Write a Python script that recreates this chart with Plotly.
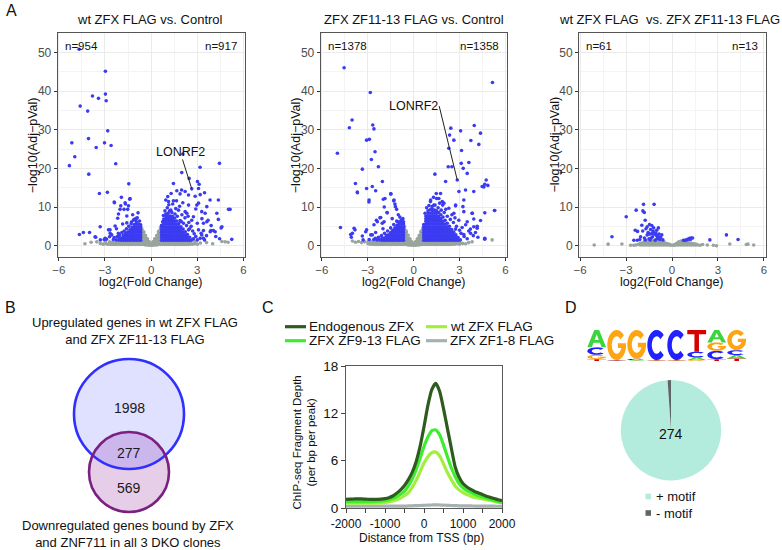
import math
import plotly.graph_objects as go

W, H = 782, 550
FONT = "Liberation Sans, Arial, Helvetica, sans-serif"


def fx(px):
    return px / W


def fy(py):
    return 1 - py / H


# ======================= DATA =======================
# ---- Panel A: volcano plots (x = log2 fold change, y = -log10 adj p) ----
volcano_titles = ["wt ZFX FLAG vs. Control", "ZFX ZF11-13 FLAG vs. Control",
                  "wt ZFX FLAG  vs. ZFX ZF11-13 FLAG"]
volcano_n_down = ["n=954", "n=1378", "n=61"]
volcano_n_up = ["n=917", "n=1358", "n=13"]
lonrf2_fc = [2.64, 2.85]
lonrf2_p = [14.7, 17.0]

# scattered significant genes (read one by one)
p1_sig_pts = [(-4.68, 50.8), (-2.97, 45.1), (-3.81, 38.7), (-2.97, 39.2), (-3.42, 38.1), (-2.92, 37.5),
              (-4.61, 36.1), (-4.12, 34.8), (-2.82, 29.7), (-4.07, 27.7), (-5.15, 26.6), (-3.03, 26.6),
              (-2.60, 25.9), (-3.57, 25.4), (-4.96, 23.0), (-2.30, 21.2), (-5.31, 20.7), (-4.05, 18.5),
              (-1.45, 16.0), (-2.84, 13.8), (-3.36, 13.5), (-1.93, 12.5), (-1.39, 12.0), (-2.40, 11.3),
              (-1.69, 11.1), (-1.97, 10.3), (-1.52, 9.4), (-2.12, 8.2), (-1.58, 7.7), (-0.97, 7.1),
              (-1.10, 6.8), (-3.31, 4.9), (-4.66, 2.9), (-4.40, 3.4), (-4.00, 3.4), (-3.60, 2.2),
              (-2.77, 4.1), (-2.66, 3.2), (-3.05, 1.6), (-2.38, 11.1), (-1.37, 12.2), (-1.67, 10.8),
              (-1.47, 10.3), (-2.02, 9.4), (-1.76, 9.4), (-2.17, 7.1), (-1.00, 6.8), (-1.58, 5.9),
              (-1.28, 6.1), (-2.34, 5.1), (-2.67, 4.1), (-2.13, 3.2), (-3.64, 2.3), (-2.99, 1.9),
              (-2.56, 2.8), (-0.75, 6.4), (-0.90, 7.2), (-1.15, 6.6), (-1.30, 5.6), (-1.45, 5.0),
              (-1.60, 4.4), (-1.75, 3.8), (-1.90, 3.4), (-2.05, 2.8), (-2.20, 2.4), (-2.40, 2.1),
              (-2.70, 2.3), (-2.90, 1.7), (-3.30, 1.5), (-2.25, 4.4), (-1.85, 5.6), (-0.85, 8.5),
              (-1.20, 8.0),
              (2.06, 23.7), (3.18, 20.3), (4.44, 21.3), (1.99, 18.9), (2.47, 17.4), (1.45, 16.1),
              (3.01, 16.6), (3.12, 15.9), (2.64, 14.7), (3.08, 14.8), (1.67, 14.2), (2.21, 14.0),
              (3.47, 13.7), (1.88, 13.4), (2.43, 13.1), (1.08, 12.7), (2.86, 12.8), (3.83, 11.8),
              (4.37, 11.8), (1.45, 11.6), (2.06, 11.1), (5.13, 9.4), (2.97, 10.5), (3.62, 10.1),
              (1.28, 9.2), (2.32, 8.4), (3.29, 8.8), (4.27, 8.4), (2.75, 7.5), (4.37, 6.8),
              (1.88, 6.5), (3.62, 6.2), (4.55, 4.6), (3.08, 4.1), (3.40, 3.9), (3.88, 3.9),
              (4.16, 3.6), (3.29, 2.8), (3.40, 1.9), (1.30, 13.5), (1.13, 11.4), (1.98, 14.4),
              (3.19, 13.2), (3.08, 11.0), (2.43, 10.5), (1.78, 9.2), (2.21, 8.8), (3.51, 8.4),
              (3.40, 5.8), (3.00, 5.8), (2.64, 6.6), (2.43, 4.1), (3.19, 1.9), (3.47, 1.5),
              (3.84, 3.6), (4.05, 3.9), (4.60, 4.9), (5.03, 9.4), (5.24, 1.65), (0.90, 9.0),
              (1.05, 9.8), (1.20, 9.0), (1.35, 8.6), (1.55, 8.2), (1.70, 7.6), (1.60, 9.6),
              (0.80, 7.8), (0.75, 6.2), (1.95, 6.3), (2.10, 5.8), (2.30, 5.2), (2.50, 4.4),
              (2.70, 3.8), (2.80, 3.1), (2.90, 2.4), (2.45, 6.0), (2.60, 5.0), (1.85, 10.2),
              (1.15, 10.6), (2.00, 8.0), (2.20, 7.2), (2.40, 7.6), (0.95, 11.8), (1.40, 10.8),
              (1.65, 11.6), (2.90, 9.5), (3.30, 7.0), (3.70, 6.6), (3.90, 5.2), (3.25, 3.2),
              (3.60, 2.6), (4.20, 2.4), (4.45, 1.8), (2.75, 1.8), (3.00, 1.5)]

# dense significant region, read as columns (x, [y values])
p1_sig_cols = [(0.68, [1.4, 2.1, 2.8, 3.5, 4.2, 4.9, 5.3]),
               (0.82, [1.4, 2.1, 2.8, 3.5, 4.2, 4.9, 5.6, 6.3, 6.9]),
               (0.96, [1.4, 2.1, 2.8, 3.5, 4.2, 4.9, 5.6, 6.3, 7.0, 7.7, 8.2]),
               (1.10, [1.4, 2.1, 2.8, 3.5, 4.2, 4.9, 5.6, 6.3, 7.0, 7.7, 8.4]),
               (1.24, [1.4, 2.1, 2.8, 3.5, 4.2, 4.9, 5.6, 6.3, 7.0, 7.7]),
               (1.38, [1.4, 2.1, 2.8, 3.5, 4.2, 4.9, 5.6, 6.3, 7.0, 7.6]),
               (1.52, [1.4, 2.1, 2.8, 3.5, 4.2, 4.9, 5.6, 6.3, 7.1]),
               (1.66, [1.4, 2.1, 2.8, 3.5, 4.2, 4.9, 5.6, 6.4]),
               (1.80, [1.4, 2.1, 2.8, 3.5, 4.2, 4.9, 5.7]),
               (1.94, [1.4, 2.1, 2.8, 3.5, 4.2, 4.9]),
               (2.08, [1.4, 2.1, 2.8, 3.5, 4.3]),
               (2.22, [1.4, 2.1, 2.8, 3.6]),
               (2.36, [1.4, 2.1, 2.9]),
               (2.50, [1.4, 2.2]),
               (2.64, [1.5]),
               (-0.68, [1.4, 2.1, 2.8, 3.5, 4.2, 4.9, 5.4]),
               (-0.82, [1.4, 2.1, 2.8, 3.5, 4.2, 4.9, 5.6]),
               (-0.96, [1.4, 2.1, 2.8, 3.5, 4.2, 4.9, 5.6, 6.2]),
               (-1.10, [1.4, 2.1, 2.8, 3.5, 4.2, 4.9, 5.5]),
               (-1.24, [1.4, 2.1, 2.8, 3.5, 4.2, 4.7]),
               (-1.38, [1.4, 2.1, 2.8, 3.5, 4.1]),
               (-1.52, [1.4, 2.1, 2.8, 3.5]),
               (-1.66, [1.4, 2.1, 2.8, 3.2]),
               (-1.80, [1.4, 2.1, 2.7]),
               (-1.94, [1.4, 2.0]),
               (-2.08, [1.5, 2.2]),
               (-2.25, [1.5]),
               (-2.45, [1.6])]

# non-significant genes, read as columns
p1_ns_cols = [(-0.60, [0.3, 0.9, 1.5, 2.1, 2.7, 3.3, 3.9, 4.4]), (-0.48, [0.3, 0.9, 1.5, 2.1, 2.7, 3.3, 3.6]),
              (-0.36, [0.2, 0.8, 1.4, 2.0, 2.6]), (-0.24, [0.2, 0.8, 1.4, 1.8]), (-0.12, [0.1, 0.6, 1.0]),
              (0.00, [0.1, 0.4]), (0.12, [0.1, 0.6, 1.0]), (0.24, [0.2, 0.8, 1.4, 1.8]),
              (0.36, [0.2, 0.8, 1.4, 2.0, 2.6]), (0.48, [0.3, 0.9, 1.5, 2.1, 2.7, 3.3, 3.7]),
              (0.60, [0.3, 0.9, 1.5, 2.1, 2.7, 3.3, 3.9, 4.6]),
              (-0.74, [0.3, 0.9, 1.2]), (-0.88, [0.3, 0.9, 1.2]), (-1.02, [0.3, 0.9, 1.2]),
              (-1.16, [0.3, 0.9, 1.1]), (-1.30, [0.3, 0.9, 1.1]), (-1.44, [0.3, 0.9]), (-1.58, [0.3, 0.9]),
              (-1.72, [0.3, 0.9]), (-1.86, [0.3, 0.9]), (-2.00, [0.3, 0.9]), (-2.14, [0.3, 0.9]),
              (-2.28, [0.3, 0.8]), (-2.42, [0.3, 0.8]), (-2.56, [0.3, 0.9]), (-2.70, [0.4, 1.0]),
              (-2.84, [0.4]), (-2.98, [0.5, 1.0]), (-3.12, [0.4]), (-3.30, [0.6]), (-3.53, [1.0]),
              (-3.90, [0.9]), (-4.30, [0.5]),
              (0.74, [0.3, 0.9, 1.2]), (0.88, [0.3, 0.9, 1.2]), (1.02, [0.3, 0.9, 1.2]), (1.16, [0.3, 0.9, 1.2]),
              (1.30, [0.3, 0.9, 1.1]), (1.44, [0.3, 0.9, 1.1]), (1.58, [0.3, 0.9]), (1.72, [0.3, 0.9]),
              (1.86, [0.3, 0.9]), (2.00, [0.3, 0.9]), (2.14, [0.3, 0.9]), (2.28, [0.3, 0.9]),
              (2.42, [0.3, 0.8]), (2.56, [0.4, 1.0]), (2.70, [0.4]), (2.84, [0.5, 1.1]), (3.00, [0.4]),
              (3.20, [0.7]), (3.60, [0.8]), (4.00, [0.5]), (4.60, [1.1]), (4.81, [1.0]), (5.00, [0.9])]

p2_sig_pts = [(-4.54, 46.0), (-2.83, 39.6), (-4.02, 32.5), (-4.20, 30.5), (-2.67, 31.2), (-2.59, 30.2),
              (-3.07, 27.3), (-2.89, 27.5), (-4.98, 23.9), (-2.52, 24.3), (-2.76, 22.3), (-2.30, 20.4),
              (-3.35, 19.8), (-2.04, 16.6), (-3.80, 16.1), (-3.07, 14.8), (-3.67, 13.7), (-2.48, 14.2),
              (-1.48, 13.4), (-1.98, 12.0), (-1.30, 11.6), (-2.91, 11.8), (-1.87, 12.2), (-1.22, 10.8),
              (-1.11, 9.4), (-1.74, 8.6), (-2.43, 6.6), (-2.20, 7.2), (-1.93, 6.2), (-3.07, 4.1),
              (-3.83, 4.1), (-4.78, 4.7), (-4.11, 2.9), (-4.07, 2.2), (-2.80, 2.8), (-1.07, 6.2),
              (-1.50, 13.4), (-1.28, 11.8), (-1.19, 10.1), (-1.92, 10.0), (-2.92, 11.3), (-3.68, 13.9),
              (-2.70, 15.3), (-1.72, 8.5), (-2.15, 7.3), (-2.37, 6.2), (-2.59, 5.4), (-2.05, 5.8),
              (-3.89, 4.5), (-4.00, 3.2), (-3.13, 3.6), (-3.35, 2.5), (-2.70, 2.8), (-2.48, 3.4),
              (-0.70, 7.0), (-0.90, 7.4), (-1.10, 6.4), (-1.30, 5.5), (-1.50, 4.6), (-1.70, 3.8),
              (-1.90, 3.2), (-2.10, 2.6), (-2.30, 2.2), (-2.50, 1.9), (-2.90, 1.6), (-3.30, 1.5),
              (-1.00, 8.0), (-1.40, 7.0), (-2.00, 4.4),
              (5.15, 42.2), (3.96, 31.1), (2.43, 30.4), (3.07, 29.7), (4.37, 29.1), (3.74, 27.2),
              (2.35, 28.6), (2.63, 27.3), (4.26, 26.2), (3.13, 24.6), (2.30, 25.2), (3.61, 21.5),
              (3.11, 21.3), (3.24, 20.0), (2.26, 20.4), (2.50, 20.4), (1.39, 18.5), (3.50, 18.7),
              (2.85, 17.0), (4.74, 17.0), (4.65, 15.9), (4.85, 15.6), (4.48, 15.3), (3.93, 14.0),
              (2.09, 16.6), (2.96, 14.0), (3.28, 11.8), (3.22, 10.1), (5.28, 9.1), (4.65, 8.5),
              (3.83, 8.4), (2.74, 10.3), (4.37, 6.5), (3.93, 4.9), (4.65, 1.7), (3.72, 3.2),
              (4.15, 4.5), (1.76, 13.5), (1.50, 12.2), (1.87, 11.4), (1.48, 13.5), (1.11, 11.8),
              (1.65, 12.2), (1.32, 10.5), (1.98, 11.0), (2.30, 9.7), (2.74, 10.5), (2.63, 8.4),
              (3.39, 14.4), (4.59, 15.2), (3.28, 8.8), (3.82, 8.4), (5.30, 9.1), (2.95, 6.6),
              (3.50, 6.2), (3.93, 6.9), (4.15, 5.0), (3.17, 4.7), (3.71, 4.3), (4.04, 3.4),
              (2.74, 4.3), (3.28, 2.9), (4.65, 1.9), (0.85, 9.8), (1.00, 10.4), (1.20, 10.1),
              (1.40, 10.5), (1.60, 9.8), (1.80, 9.2), (2.00, 8.6), (2.20, 7.6), (2.40, 6.8),
              (2.60, 6.0), (2.80, 5.0), (3.00, 4.0), (3.10, 3.2), (3.30, 2.4), (3.50, 1.8),
              (0.75, 8.4), (1.10, 11.4), (1.30, 12.5), (1.90, 10.5), (2.50, 8.0), (2.70, 7.2),
              (3.40, 5.4), (3.60, 3.8), (3.90, 2.6), (4.20, 2.2), (1.70, 11.0), (2.10, 9.4)]

p2_sig_cols = [(0.66, [1.4, 2.1, 2.8, 3.5, 4.2, 4.9, 5.5]),
               (0.80, [1.4, 2.1, 2.8, 3.5, 4.2, 4.9, 5.6, 6.3, 7.0, 7.7]),
               (0.94, [1.4, 2.1, 2.8, 3.5, 4.2, 4.9, 5.6, 6.3, 7.0, 7.7, 8.4, 9.0]),
               (1.08, [1.4, 2.1, 2.8, 3.5, 4.2, 4.9, 5.6, 6.3, 7.0, 7.7, 8.4, 9.3]),
               (1.22, [1.4, 2.1, 2.8, 3.5, 4.2, 4.9, 5.6, 6.3, 7.0, 7.7, 8.4, 9.1, 9.4]),
               (1.36, [1.4, 2.1, 2.8, 3.5, 4.2, 4.9, 5.6, 6.3, 7.0, 7.7, 8.4, 9.2]),
               (1.50, [1.4, 2.1, 2.8, 3.5, 4.2, 4.9, 5.6, 6.3, 7.0, 7.7, 8.4, 9.0]),
               (1.64, [1.4, 2.1, 2.8, 3.5, 4.2, 4.9, 5.6, 6.3, 7.0, 7.7, 8.6]),
               (1.78, [1.4, 2.1, 2.8, 3.5, 4.2, 4.9, 5.6, 6.3, 7.0, 8.0]),
               (1.92, [1.4, 2.1, 2.8, 3.5, 4.2, 4.9, 5.6, 6.3, 7.4]),
               (2.06, [1.4, 2.1, 2.8, 3.5, 4.2, 4.9, 5.6, 6.6]),
               (2.20, [1.4, 2.1, 2.8, 3.5, 4.2, 4.9, 5.8]),
               (2.34, [1.4, 2.1, 2.8, 3.5, 4.2, 5.0]),
               (2.48, [1.4, 2.1, 2.8, 3.5, 4.2]),
               (2.62, [1.4, 2.1, 2.8, 3.5]),
               (2.76, [1.4, 2.1, 2.8]),
               (2.90, [1.4, 2.1]),
               (3.05, [1.5]),
               (-0.66, [1.4, 2.1, 2.8, 3.5, 4.2, 4.9, 5.6, 6.2]),
               (-0.80, [1.4, 2.1, 2.8, 3.5, 4.2, 4.9, 5.6, 6.3, 6.7]),
               (-0.94, [1.4, 2.1, 2.8, 3.5, 4.2, 4.9, 5.6, 6.2]),
               (-1.08, [1.4, 2.1, 2.8, 3.5, 4.2, 4.9, 5.3]),
               (-1.22, [1.4, 2.1, 2.8, 3.5, 4.2, 4.6]),
               (-1.36, [1.4, 2.1, 2.8, 3.5, 4.0]),
               (-1.50, [1.4, 2.1, 2.8, 3.4]),
               (-1.64, [1.4, 2.1, 2.8]),
               (-1.78, [1.4, 2.1, 2.6]),
               (-1.92, [1.4, 2.0]),
               (-2.06, [1.4, 1.9]),
               (-2.22, [1.5]),
               (-2.40, [1.5]),
               (-2.60, [1.6])]

p2_ns_cols = [(-0.60, [0.3, 0.9, 1.5, 2.1, 2.7, 3.3, 3.9, 4.5, 5.0]), (-0.48, [0.3, 0.9, 1.5, 2.1, 2.7, 3.3, 3.8]),
              (-0.36, [0.2, 0.8, 1.4, 2.0, 2.7]), (-0.24, [0.2, 0.8, 1.4, 1.8]), (-0.12, [0.1, 0.6, 1.0]),
              (0.00, [0.1, 0.4]), (0.12, [0.1, 0.6, 1.0]), (0.24, [0.2, 0.8, 1.4, 1.8]),
              (0.36, [0.2, 0.8, 1.4, 2.0, 2.6]), (0.48, [0.3, 0.9, 1.5, 2.1, 2.7, 3.3, 3.7]),
              (0.60, [0.3, 0.9, 1.5, 2.1, 2.7, 3.3, 3.9, 4.5]),
              (-0.74, [0.3, 0.9, 1.2]), (-0.88, [0.3, 0.9, 1.2]), (-1.02, [0.3, 0.9, 1.2]),
              (-1.16, [0.3, 0.9, 1.2]), (-1.30, [0.3, 0.9, 1.1]), (-1.44, [0.3, 0.9]), (-1.58, [0.3, 0.9]),
              (-1.72, [0.3, 0.9]), (-1.86, [0.3, 0.9]), (-2.00, [0.3, 0.9]), (-2.14, [0.3, 0.9, 1.2]),
              (-2.28, [0.3, 0.8]), (-2.42, [0.3, 0.9]), (-2.56, [0.3, 0.9]), (-2.70, [0.4, 1.0]),
              (-2.84, [0.4, 1.1]), (-2.98, [0.5, 1.0]), (-3.20, [1.0]), (-3.40, [0.8]), (-3.60, [1.1]),
              (-3.80, [0.9]), (-4.00, [1.2]),
              (0.74, [0.3, 0.9, 1.2]), (0.88, [0.3, 0.9, 1.2]), (1.02, [0.3, 0.9, 1.2]), (1.16, [0.3, 0.9, 1.2]),
              (1.30, [0.3, 0.9, 1.1]), (1.44, [0.3, 0.9, 1.1]), (1.58, [0.3, 0.9]), (1.72, [0.3, 0.9]),
              (1.86, [0.3, 0.9]), (2.00, [0.3, 0.9]), (2.14, [0.3, 0.9]), (2.28, [0.3, 0.9]),
              (2.42, [0.3, 0.8]), (2.56, [0.4, 1.0]), (2.70, [0.4, 1.0]), (2.84, [0.5, 1.1]),
              (3.00, [0.4, 0.9]), (3.20, [0.6]), (3.40, [0.5]), (3.60, [0.8]), (3.82, [1.0]), (5.13, [1.5])]

p3_sig_pts = [(-1.86, 10.7), (-1.17, 10.7), (-2.34, 9.2), (-2.99, 7.5), (-1.81, 8.6), (-1.75, 6.6),
              (-1.97, 5.3), (-1.47, 5.5), (-1.32, 5.2), (-1.62, 4.9), (-0.89, 4.6), (-2.40, 4.0),
              (-2.25, 3.7), (-1.91, 3.8), (-1.56, 3.4), (-1.23, 3.7), (-1.06, 3.3), (-0.85, 3.0),
              (-0.67, 2.8), (-1.62, 2.8), (-2.05, 2.3), (-1.27, 2.3), (-0.96, 1.9), (-2.49, 1.4),
              (-2.27, 1.4), (-1.43, 1.5), (-1.10, 1.4), (-0.60, 1.5), (-3.92, 2.3), (-1.40, 4.2),
              (-1.70, 4.4), (-1.20, 4.6), (-1.00, 2.6), (-0.75, 2.1), (-1.35, 2.0), (-1.50, 1.8),
              (-1.80, 2.0), (-1.15, 3.0), (-1.30, 3.2), (-0.90, 2.3), (-1.75, 1.5), (-2.10, 1.6),
              (-0.80, 1.6), (-1.00, 4.0), (-1.45, 3.0), (-1.90, 9.0),
              (0.85, 1.4), (0.95, 1.5), (1.05, 1.7), (1.15, 1.9), (1.25, 2.0), (1.34, 2.0),
              (0.75, 1.4), (2.47, 1.5), (3.55, 2.8), (4.31, 1.6), (1.20, 1.6)]

p3_sig_cols = []

p3_ns_cols = [(-2.50, [0.1]), (-2.36, [0.2]), (-2.22, [0.3]), (-2.08, [0.2, 0.6]), (-1.94, [0.2, 0.7]),
              (-1.80, [0.2, 0.7, 1.1]), (-1.66, [0.2, 0.7, 1.2]), (-1.52, [0.2, 0.7, 1.2]),
              (-1.38, [0.2, 0.7, 1.2]), (-1.24, [0.2, 0.7, 1.2]), (-1.10, [0.2, 0.7, 1.2, 1.5]),
              (-0.96, [0.2, 0.7, 1.2, 1.5]), (-0.82, [0.2, 0.7, 1.2, 1.4]), (-0.68, [0.2, 0.7, 1.2]),
              (-0.54, [0.2, 0.7, 1.1]), (-0.40, [0.2, 0.6]), (-0.26, [0.2, 0.5]), (-0.12, [0.1, 0.3]),
              (0.02, [0.1]), (0.16, [0.1, 0.3]), (0.30, [0.2, 0.6]), (0.44, [0.2, 0.7, 1.0]),
              (0.58, [0.2, 0.7, 1.2]), (0.72, [0.2, 0.7, 1.2]), (0.86, [0.2, 0.7, 1.1]),
              (1.00, [0.2, 0.7, 1.1]), (1.14, [0.2, 0.7]), (1.28, [0.2, 0.6]), (1.42, [0.2, 0.5]),
              (1.56, [0.2, 0.4]), (1.70, [0.2]), (1.84, [0.1]), (2.00, [0.3]), (2.30, [0.2]), (2.70, [0.1]),
              (-5.08, [0.2]), (-4.17, [0.4]), (-3.27, [0.45]), (-2.70, [0.1]), (2.90, [0.0]),
              (3.77, [0.45]), (4.85, [0.3]), (4.95, [0.4]), (5.33, [0.2])]

# ---- Panel B: Venn ----
venn_top_title = "Upregulated genes in wt ZFX FLAG<br>and ZFX ZF11-13 FLAG"
venn_bottom_title = "Downregulated genes bound by ZFX<br>and ZNF711 in all 3 DKO clones"
venn_counts = [1998, 277, 569]

# ---- Panel C: ChIP-seq profiles ----
c_x = [-2000, -1900, -1800, -1700, -1600, -1500, -1400, -1300, -1200, -1100, -1000, -900, -800, -700,
       -600, -500, -400, -300, -200, -100, 0, 100, 200, 300, 400, 500, 600, 700, 800, 900, 1000,
       1100, 1200, 1300, 1400, 1500, 1600, 1700, 1800, 1900, 2000]
c_endog = [1.10, 1.12, 1.14, 1.16, 1.15, 1.12, 1.10, 1.10, 1.10, 1.12, 1.18, 1.30, 1.52, 1.86,
           2.30, 2.85, 3.60, 4.55, 5.90, 7.80, 10.3, 13.0, 15.0, 15.8, 14.8, 12.6, 10.1, 7.6, 5.2, 3.9, 3.1,
           2.65, 2.35, 2.10, 1.90, 1.70, 1.50, 1.35, 1.20, 1.05, 0.93]
c_wt = [0.60, 0.60, 0.60, 0.60, 0.60, 0.60, 0.60, 0.61, 0.62, 0.65, 0.70, 0.78, 0.90, 1.05,
        1.25, 1.55, 1.95, 2.65, 3.50, 4.60, 5.70, 6.50, 7.00, 7.10, 6.60, 5.60, 4.50, 3.60, 2.80, 2.30, 1.95,
        1.70, 1.50, 1.35, 1.25, 1.15, 1.05, 0.95, 0.85, 0.75, 0.65]
c_zf913 = [0.80, 0.80, 0.80, 0.80, 0.80, 0.80, 0.80, 0.82, 0.85, 0.88, 0.95, 1.05, 1.22, 1.43,
           1.75, 2.15, 2.80, 3.70, 4.90, 6.30, 7.80, 9.00, 9.80, 9.90, 9.30, 8.00, 6.50, 5.10, 4.00, 3.10, 2.55,
           2.20, 1.95, 1.75, 1.55, 1.40, 1.25, 1.10, 0.95, 0.82, 0.72]
c_zf18 = [0.22, 0.22, 0.22, 0.22, 0.22, 0.22, 0.22, 0.22, 0.22, 0.22, 0.24, 0.24, 0.24, 0.24,
          0.24, 0.24, 0.26, 0.28, 0.30, 0.32, 0.34, 0.36, 0.38, 0.40, 0.38, 0.36, 0.34, 0.32, 0.30, 0.28, 0.27,
          0.26, 0.26, 0.25, 0.25, 0.24, 0.24, 0.23, 0.23, 0.22, 0.22]
c_names = ["Endogenous ZFX", "wt ZFX FLAG", "ZFX ZF9-13 FLAG", "ZFX ZF1-8 FLAG"]
c_colors = ["#2E5B1E", "#A2EE3E", "#3DEE2E", "#A7B1B1"]
c_x_ticks = [-2000, -1000, 0, 1000, 2000]
c_x_ticktext = ["-2000", "-1000", "0", "1000", "2000"]
c_y_ticks = [0, 6, 12, 18]

# ---- Panel D: motif logo (letter probabilities per position) and pie ----
logo_pos = [1, 2, 3, 4, 5, 6, 7, 8]
logo_A = [0.56, 0.01, 0.02, 0.01, 0.01, 0.08, 0.40, 0.11]
logo_C = [0.24, 0.01, 0.04, 0.97, 0.97, 0.19, 0.27, 0.16]
logo_G = [0.14, 0.97, 0.93, 0.01, 0.01, 0.03, 0.27, 0.65]
logo_T = [0.06, 0.01, 0.01, 0.01, 0.01, 0.70, 0.06, 0.08]
logo_colors = {"A": "#3CD63C", "C": "#2121FF", "G": "#FFA514", "T": "#D60000"}

pie_labels = ["+ motif", "- motif"]
pie_values = [274, 3]
pie_colors = ["#B3EBDD", "#5E6567"]

# ======================= FIGURE =======================
BLUE = "#3B3BF2"
GRAY = "#98A49D"


def expand(cols):
    xs, ys = [], []
    for x, yl in cols:
        for y in yl:
            xs.append(x)
            ys.append(y)
    return xs, ys


fig = go.Figure()
annotations = []
shapes = []


def ann(text, x, y, xref="paper", yref="paper", size=13, xanchor="center", yanchor="middle", color="#111111",
        **kw):
    d = dict(text=text, x=x, y=y, xref=xref, yref=yref, showarrow=False, xanchor=xanchor, yanchor=yanchor,
             font=dict(size=size, color=color, family=FONT))
    d.update(kw)
    annotations.append(d)


panel_px = [(57.7, 245.0), (320.7, 507.0), (579.0, 765.5)]
panel_data = [(p1_sig_pts, p1_sig_cols, p1_ns_cols),
              (p2_sig_pts, p2_sig_cols, p2_ns_cols),
              (p3_sig_pts, p3_sig_cols, p3_ns_cols)]
A_TOP, A_BOT = 33.0, 257.0
title_cx = [150.0, 414.0, 669.0]

layout_axes = {}
for i, ((x0p, x1p), (pts, cols, ns)) in enumerate(zip(panel_px, panel_data), start=1):
    xn = "x" if i == 1 else f"x{i}"
    yn = "y" if i == 1 else f"y{i}"
    nx, ny = expand(ns)
    fig.add_trace(go.Scatter(x=nx, y=ny, mode="markers", xaxis=xn, yaxis=yn,
                             marker=dict(color=GRAY, size=3.6, line=dict(width=0)),
                             showlegend=False, hoverinfo="skip"))
    cx, cy = expand(cols)
    sx = [p[0] for p in pts] + cx
    sy = [p[1] for p in pts] + cy
    fig.add_trace(go.Scatter(x=sx, y=sy, mode="markers", xaxis=xn, yaxis=yn,
                             marker=dict(color=BLUE, size=3.6, line=dict(width=0)),
                             showlegend=False, hoverinfo="skip"))
    xkey = "xaxis" if i == 1 else f"xaxis{i}"
    ykey = "yaxis" if i == 1 else f"yaxis{i}"
    layout_axes[xkey] = dict(domain=[fx(x0p), fx(x1p)], range=[-6.07, 6.1], anchor=yn, automargin=False,
                             tickmode="linear", tick0=0, dtick=3,
                             showgrid=True, gridcolor="#EBEBEB", gridwidth=1,
                             minor=dict(tick0=0, dtick=1.5, showgrid=True, gridcolor="#F4F4F4", gridwidth=0.6),
                             zeroline=False, showline=True, mirror=True, linecolor="#555555", linewidth=1,
                             ticks="outside", ticklen=2.5, tickcolor="#333333",
                             tickfont=dict(size=11.5, color="#4D4D4D", family=FONT))
    layout_axes[ykey] = dict(domain=[fy(A_BOT), fy(A_TOP)], range=[-2.92, 55.0], anchor=xn, automargin=False,
                             tickmode="linear", tick0=0, dtick=10,
                             showgrid=True, gridcolor="#EBEBEB", gridwidth=1,
                             minor=dict(tick0=0, dtick=5, showgrid=True, gridcolor="#F4F4F4", gridwidth=0.6),
                             zeroline=False, showline=True, mirror=True, linecolor="#555555", linewidth=1,
                             ticks="outside", ticklen=3, tickcolor="#333333",
                             tickfont=dict(size=12, color="#4D4D4D", family=FONT))
    cxp = (x0p + x1p) / 2
    ann(volcano_titles[i - 1], fx(title_cx[i - 1]), fy(19), size=13)
    ann("log2(Fold Change)", fx(cxp), fy(281.5), size=12.5)
    ann("\u2212log10(Adj\u2212pVal)", fx(x0p - 24.5), fy(145), size=12.5, textangle=-90)
    ann(volcano_n_down[i - 1], -5.75, 51.7, xref=xn, yref=yn, size=11.5, xanchor="left")
    ann(volcano_n_up[i - 1], 5.72, 51.7, xref=xn, yref=yn, size=11.5, xanchor="right")

# LONRF2 labels (panels 1 and 2)
ann("LONRF2", 1.89, 24.3, xref="x", yref="y", size=12.5)
shapes.append(dict(type="line", xref="x", yref="y", x0=2.04, y0=22.3, x1=lonrf2_fc[0], y1=lonrf2_p[0],
                   line=dict(color="#222222", width=1)))
ann("LONRF2", -0.02, 36.1, xref="x2", yref="y2", size=12.5)
shapes.append(dict(type="line", xref="x2", yref="y2", x0=1.67, y0=36.1, x1=lonrf2_fc[1], y1=lonrf2_p[1],
                   line=dict(color="#222222", width=1)))

# ---- Panel C ----
C_X0, C_X1, C_Y0, C_Y1 = 346.0, 502.0, 366.0, 508.0
for series, name, col in [(c_zf18, c_names[3], c_colors[3]), (c_wt, c_names[1], c_colors[1]),
                          (c_zf913, c_names[2], c_colors[2]), (c_endog, c_names[0], c_colors[0])]:
    fig.add_trace(go.Scatter(x=c_x, y=series, mode="lines", name=name, xaxis="x4", yaxis="y4",
                             line=dict(color=col, width=3.2, shape="spline", smoothing=0.6),
                             showlegend=False, hoverinfo="skip"))
layout_axes["xaxis4"] = dict(domain=[fx(C_X0), fx(C_X1)], range=[-2000, 2000], anchor="y4", automargin=False,
                             tickmode="array", tickvals=c_x_ticks, ticktext=c_x_ticktext,
                             minor=dict(tickmode="linear", tick0=0, dtick=500, ticks="outside", ticklen=4,
                                        tickcolor="#444444", showgrid=False),
                             ticks="outside", ticklen=4, tickcolor="#444444", showgrid=False, zeroline=False,
                             showline=True, mirror=True, linecolor="#5A5A5A", linewidth=1.2,
                             tickfont=dict(size=12, color="#111111", family=FONT))
layout_axes["yaxis4"] = dict(domain=[fy(C_Y1), fy(C_Y0)], range=[0, 18], anchor="x4", automargin=False,
                             tickmode="array", tickvals=c_y_ticks,
                             ticks="outside", ticklen=4, tickcolor="#444444", showgrid=False, zeroline=False,
                             showline=True, mirror=True, linecolor="#5A5A5A", linewidth=1.2,
                             tickfont=dict(size=13.5, color="#111111", family=FONT))
ann("Distance from TSS (bp)", fx(422), fy(537.5), size=12)
ann("ChIP-seq Fragment Depth<br>(per bp per peak)", fx(303.5), fy(443), size=11.5, textangle=-90)
# legend for panel C
leg_rows = [326.7, 340.7]
leg_cols = [(285.0, 307.0), (426.0, 448.0)]
leg_order = [(0, 0, 0), (1, 0, 1), (2, 1, 0), (3, 1, 1)]
for idx, r, c in leg_order:
    lx0, tx = leg_cols[c]
    ly = leg_rows[r]
    shapes.append(dict(type="line", xref="paper", yref="paper", x0=fx(lx0), x1=fx(lx0 + 21), y0=fy(ly), y1=fy(ly),
                       line=dict(color=c_colors[idx], width=3.2)))
    ann(c_names[idx], fx(tx), fy(ly), size=13.5, xanchor="left")

# ---- Panel B: Venn ----
VB = (129.0, 414.0, 55.0)
VP = (129.0, 472.0, 40.0)


def circ(c):
    cx, cy, r = c
    return dict(x0=fx(cx - r), x1=fx(cx + r), y0=fy(cy + r), y1=fy(cy - r))


shapes.append(dict(type="circle", xref="paper", yref="paper", fillcolor="#E7CEE8", line=dict(width=0),
                   layer="below", **circ(VP)))
shapes.append(dict(type="circle", xref="paper", yref="paper", fillcolor="rgba(70,70,255,0.17)",
                   line=dict(width=0), layer="below", **circ(VB)))
shapes.append(dict(type="circle", xref="paper", yref="paper", line=dict(color="#2F2FFF", width=2.6), **circ(VB)))
shapes.append(dict(type="circle", xref="paper", yref="paper", line=dict(color="#7B2080", width=2.6), **circ(VP)))
for val, ypix in zip(venn_counts, [408.0, 453.0, 488.0]):
    ann(str(val), fx(129), fy(ypix), size=14, color="#1A1A1A")
ann(venn_top_title, fx(135), fy(331), size=13)
ann(venn_bottom_title, fx(128), fy(534), size=13)

# ---- Panel D: logo ----
L_X0, L_X1, L_Y0, L_Y1 = 586.7, 746.7, 330.0, 361.0
layout_axes["xaxis5"] = dict(domain=[fx(L_X0), fx(L_X1)], range=[0.5, 8.5], anchor="y5", visible=False,
                             fixedrange=True, automargin=False)
layout_axes["yaxis5"] = dict(domain=[fy(L_Y1), fy(L_Y0)], range=[0, 1], anchor="x5", visible=False,
                             fixedrange=True, automargin=False)
fig.add_trace(go.Scatter(x=logo_pos, y=[0] * len(logo_pos), xaxis="x5", yaxis="y5", mode="markers",
                         marker=dict(opacity=0), showlegend=False, hoverinfo="skip"))


def arc(rx, ry, a0, a1, n):
    pts = []
    for k in range(n + 1):
        a = math.radians(a0 + (a1 - a0) * k / n)
        pts.append((0.5 + rx * math.cos(a), 0.5 + ry * math.sin(a)))
    return pts


def unit_glyph(ch):
    if ch == "A":
        return [[(0, 0), (0.37, 1), (0.63, 1), (1, 0), (0.76, 0), (0.67, 0.26), (0.33, 0.26), (0.24, 0)],
                [(0.39, 0.42), (0.61, 0.42), (0.5, 0.76)]]
    if ch == "T":
        return [[(0, 1), (1, 1), (1, 0.8), (0.62, 0.8), (0.62, 0), (0.38, 0), (0.38, 0.8), (0, 0.8)]]
    if ch == "C":
        return [arc(0.5, 0.5, 42, 318, 30) + arc(0.26, 0.29, 318, 42, 30)]
    return [arc(0.5, 0.5, 40, 352, 30) + [(1.0, 0.56), (0.56, 0.56), (0.56, 0.40), (0.76, 0.40)]
            + arc(0.26, 0.29, 338, 40, 30)]


def glyph_path(ch, x0, x1, y0, y1):
    parts = []
    for poly in unit_glyph(ch):
        coords = [(x0 + u * (x1 - x0), y0 + v * (y1 - y0)) for u, v in poly]
        parts.append("M" + " L".join(f"{a:.4f},{b:.4f}" for a, b in coords) + " Z")
    return " ".join(parts)


for k, pos in enumerate(logo_pos):
    stack = sorted([("A", logo_A[k]), ("C", logo_C[k]), ("G", logo_G[k]), ("T", logo_T[k])], key=lambda t: t[1])
    base = 0.0
    for ch, h in stack:
        shapes.append(dict(type="path", xref="x5", yref="y5",
                           path=glyph_path(ch, pos - 0.47, pos + 0.47, base, base + h),
                           fillcolor=logo_colors[ch], line=dict(width=0)))
        base += h

# ---- Panel D: pie ----
PIE_CX, PIE_CY, PIE_R = 671.0, 430.3, 50.2
fig.add_trace(go.Pie(labels=pie_labels, values=pie_values, sort=False, direction="clockwise", rotation=0,
                     marker=dict(colors=pie_colors, line=dict(width=0)), textinfo="none", textposition="none",
                     hoverinfo="skip", showlegend=False, automargin=False,
                     domain=dict(x=[fx(PIE_CX - PIE_R), fx(PIE_CX + PIE_R)],
                                 y=[fy(PIE_CY + PIE_R), fy(PIE_CY - PIE_R)])))
ann(str(pie_values[0]), fx(PIE_CX), fy(433.5), size=14)
for lab, col, ly in zip(pie_labels, pie_colors, [496.5, 513.0]):
    shapes.append(dict(type="rect", xref="paper", yref="paper", x0=fx(645.5), x1=fx(651.0),
                       y0=fy(ly + 2.8), y1=fy(ly - 2.8), fillcolor=col, line=dict(width=0)))
    ann(lab, fx(653.5), fy(ly), size=13, xanchor="left")

# ---- panel letters ----
for letter, xp, yp in [("A", 11, 10), ("B", 10, 307), ("C", 268, 307), ("D", 571, 307)]:
    ann(letter, fx(xp), fy(yp), size=16)

fig.update_layout(template="none", width=W, height=H, margin=dict(l=0, r=0, t=0, b=0, pad=0),
                  autosize=False, paper_bgcolor="white",
                  plot_bgcolor="white", font=dict(family=FONT), showlegend=False,
                  annotations=annotations, shapes=shapes, **layout_axes)

fig.write_html("out.html", config={"displayModeBar": False},
               post_script="document.body.style.margin='0px';document.body.style.padding='0px';")
